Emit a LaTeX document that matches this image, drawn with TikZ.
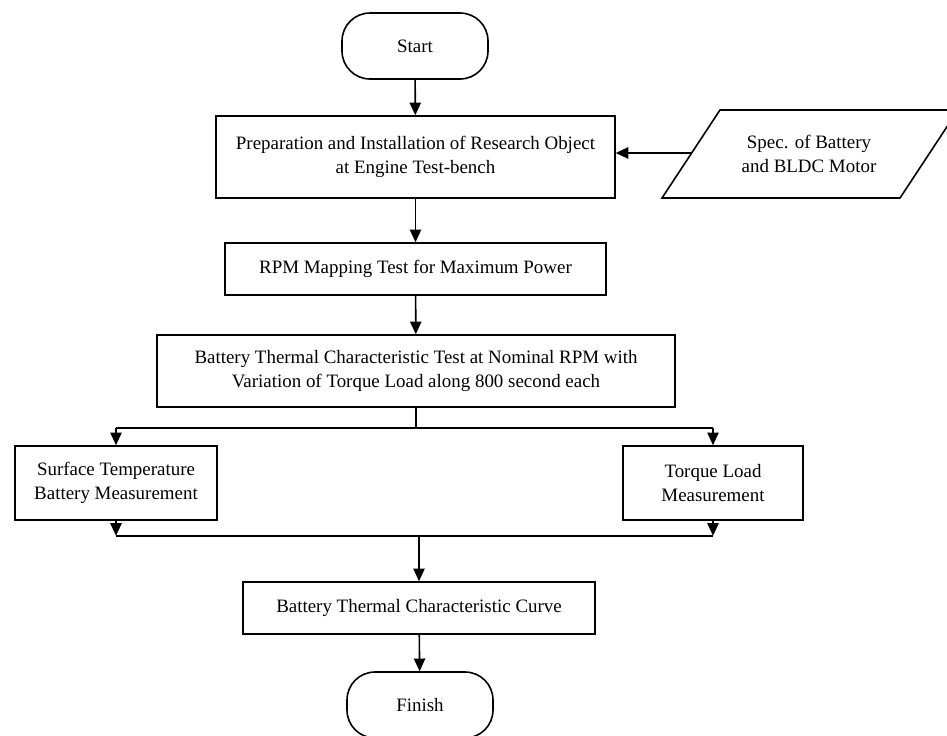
\documentclass[tikz,border=0pt]{standalone}
\usepackage{fontspec}
\setmainfont{Liberation Serif}
\usetikzlibrary{arrows.meta}

\begin{document}
\begin{tikzpicture}[x=0.75pt,y=-0.75pt,
		line width=1.2pt,
		font=\fontsize{14.2}{18}\selectfont,
		box/.style={draw,rectangle,align=center,inner sep=2pt},
		term/.style={draw,rectangle,rounded corners=21pt,minimum width=109.5pt,minimum height=49.5pt},
		arr/.style={-{Triangle[length=9.5pt,width=8.5pt]}}]
		%
		\clip (0,0) rectangle (947,736);
		\fill[white] (0,0) rectangle (947,736);
		%
		\node[term] (start) at (415,46) {Start};
		\node[box,minimum width=299pt,minimum height=61.5pt] (prep) at (415.5,157)
		{Preparation and Installation of Research Object\\at Engine Test-bench};
		% input parallelogram, cut at the right edge
		\draw (720,110) -- (958,110) -- (900,198) -- (662,198) -- cycle;
		\node[align=center,inner sep=2pt] (spec) at (809,154) {Spec. of Battery\\and BLDC Motor};
		\coordinate (specin) at (691.5,153);
		\node[box,minimum width=285.75pt,minimum height=39pt] (rpm) at (415.5,269)
		{RPM Mapping Test for Maximum Power};
		\node[box,minimum width=388.5pt,minimum height=54pt] (btest) at (416,371)
		{Battery Thermal Characteristic Test at Nominal RPM with\\Variation of Torque Load along 800 second each};
		\node[box,minimum width=151.5pt,minimum height=55.5pt] (surf) at (116,483)
		{Surface Temperature\\Battery Measurement};
		\node[box,minimum width=135pt,minimum height=55.5pt] (torque) at (713,483)
		{Torque Load\\Measurement};
		\node[box,minimum width=264pt,minimum height=39pt] (curve) at (419,608)
		{Battery Thermal Characteristic Curve};
		\node[term] (finish) at (420,705) {Finish};
		%
		\draw[arr] (start) -- (prep);
		\draw[arr] (specin) -- (specin -| prep.east);
		\draw[arr] (prep) -- (rpm);
		\draw[arr] (rpm) -- (btest);
		%
		\draw (btest.south) -- ++(0,20) coordinate (split);
		\draw (split -| surf.north) -- (split -| torque.north);
		\draw[arr] (split -| surf.north) -- (surf.north);
		\draw[arr] (split -| torque.north) -- (torque.north);
		%
		\draw[arr] (surf.south) -- ++(0,15) coordinate (mergeL);
		\draw[arr] (torque.south) -- (torque.south |- mergeL) coordinate (mergeR);
		\draw (mergeL) -- (mergeR);
		\draw[arr] (mergeL -| curve.north) -- (curve.north);
		\draw[arr] (curve) -- (finish);
		%
\end{tikzpicture}
\end{document}
